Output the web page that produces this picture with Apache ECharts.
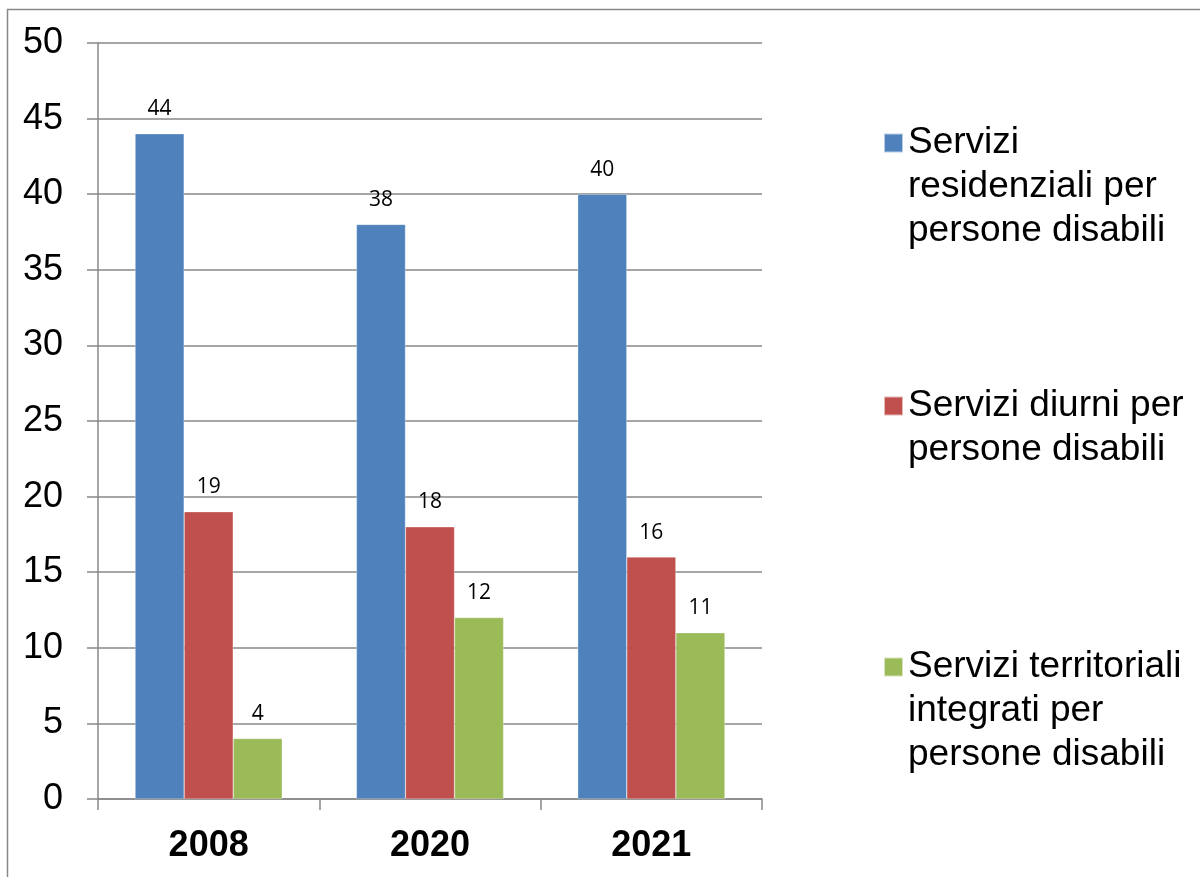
<!DOCTYPE html>
<html>
<head>
<meta charset="utf-8">
<script src="https://cdn.jsdelivr.net/npm/echarts@6/dist/echarts.min.js"></script>
<style>html,body{margin:0;padding:0;background:#fff}#c{width:1200px;height:877px}</style>
</head>
<body>
<div id="c"></div>
<script>
const categories = ['2008', '2020', '2021'];
const seriesNames = [
  'Servizi residenziali per persone disabili',
  'Servizi diurni per persone disabili',
  'Servizi territoriali integrati per persone disabili'
];
const legendLines = [
  'Servizi\nresidenziali per\npersone disabili',
  'Servizi diurni per\npersone disabili',
  'Servizi territoriali\nintegrati per\npersone disabili'
];
const residenziali = [44, 38, 40];
const diurni = [19, 18, 16];
const territoriali = [4, 12, 11];
const colors = ['#4F81BD', '#C0504D', '#9BBB59'];
const values = [residenziali, diurni, territoriali];

const chart = echarts.init(document.getElementById('c'));
const LH = 44;
const SQ = 19;
const legendTops = [121, 384, 645];
const lineCounts = legendLines.map(s => s.split('\n').length);

const option = {
  animation: false,
  textStyle: { fontFamily: 'Liberation Sans, Arial, sans-serif' },
  graphic: [{
    type: 'rect', silent: true,
    shape: { x: 7.5, y: 9.5, width: 1300, height: 1000 },
    style: { fill: 'none', stroke: '#888', lineWidth: 1.5 }
  }],
  grid: { left: 98, right: 438, top: 43, bottom: 78, containLabel: false },
  legend: seriesNames.map((n, i) => {
    const h = SQ + (lineCounts[i] - 1) * LH;
    return {
      data: [{ name: n, itemStyle: { color: colors[i] } }],
      left: 883, top: legendTops[i], padding: 0,
      orient: 'vertical',
      icon: 'path://M0,0L' + SQ + ',0L' + SQ + ',' + SQ + 'L0,' + SQ + 'ZM0,' + h,
      itemWidth: SQ, itemHeight: h, itemGap: 0,
      selectedMode: false,
      formatter: () => legendLines[i],
      textStyle: {
        fontSize: 37, lineHeight: LH, color: '#000',
        fontFamily: 'Liberation Sans, Arial, sans-serif'
      }
    };
  }),
  xAxis: {
    type: 'category', data: categories,
    axisLine: { lineStyle: { color: '#888', width: 1.5 } },
    axisTick: { show: true, length: 11, lineStyle: { color: '#888', width: 1.5 } },
    axisLabel: { fontSize: 36, fontWeight: 'bold', color: '#000', margin: 29 }
  },
  yAxis: {
    type: 'value', min: 0, max: 50, interval: 5,
    axisLine: { show: true, lineStyle: { color: '#888', width: 1.5 } },
    axisTick: { show: true, length: 11, lineStyle: { color: '#888', width: 1.5 } },
    splitLine: { lineStyle: { color: '#888', width: 1.5 } },
    axisLabel: { fontSize: 36, color: '#000', margin: 35 }
  },
  series: seriesNames.map((n, i) => ({
    type: 'bar', name: n, data: values[i],
    barGap: '0%', barCategoryGap: '33.5%',
    itemStyle: { color: colors[i], borderColor: 'rgba(255,255,255,0.6)', borderWidth: 0.5 },
    label: {
      show: true, position: 'top', distance: 14,
      fontSize: 21, color: '#000', fontFamily: 'Open Sans, DejaVu Sans, sans-serif'
    }
  }))
};
chart.setOption(option);
</script>
</body>
</html>
